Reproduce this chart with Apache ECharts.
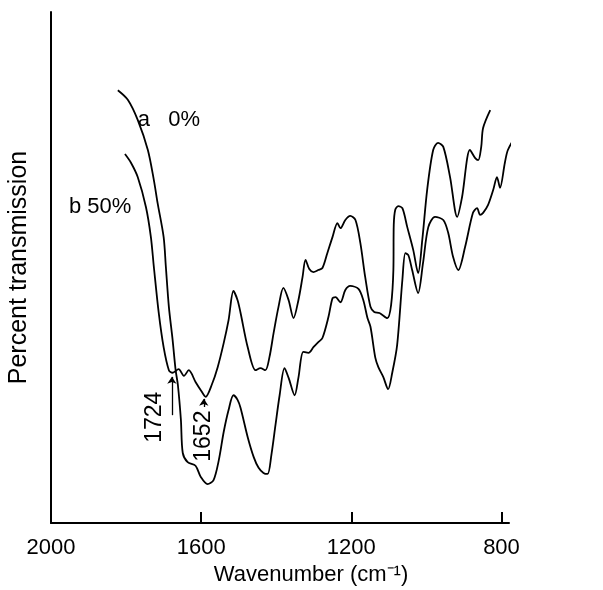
<!DOCTYPE html>
<html>
<head>
<meta charset="utf-8">
<script src="https://cdn.jsdelivr.net/npm/echarts@6/dist/echarts.min.js"></script>
<style>
html, body { margin: 0; padding: 0; background: #fff; }
#ir { width: 603px; height: 590px; }
</style>
</head>
<body>
<div id="ir"></div>
<script>
// curve a, 0%
var wavenumberA = [1822,1795,1769,1742,1726,1716,1700,1694,1686,1676,1668,1662,1654,1649,1636,1615,1601,1583,1567,1553,
  1540,1527,1514,1503,1495,1476,1460,1447,1434,1423,1413,1402,1391,1378,1367,1351,1341,1328,1314,1301,
  1288,1277,1261,1250,1242,1229,1216,1203,1181,1168,1157,1149,1136,1128,1115,1102,1091,1078,1064,1056,
  1048,1038,1022,1009,995,977,955,942,929,915,897,876,865,857,849,836,822,812,804,791,783,759,743,724];
var transmissionA = [84.7,82.8,78.9,73.0,67.1,62.6,56.0,50.1,42.3,35.8,29.9,27.0,20.2,13.7,11.9,11.2,9.0,7.6,8.4,12.3,
  17.8,22.1,25.0,24.1,22.5,16.8,12.9,10.8,9.8,9.6,13.3,19.2,25.0,30.3,28.4,25.0,28.4,33.5,33.3,34.4,
  35.4,36.2,40.3,44.0,44.2,43.2,45.6,46.4,45.8,43.6,40.1,38.4,32.3,30.5,28.6,26.2,29.4,34.8,47.6,52.8,
  52.4,49.5,45.0,50.9,57.9,59.9,59.3,56.8,52.1,49.5,54.0,60.7,61.6,60.3,60.7,62.2,65.2,67.7,65.6,70.5,73.0,76.3,79.5,83.4];

// curve b, 50%
var wavenumberB = [1803,1787,1769,1747,1734,1726,1713,1700,1686,1676,1660,1646,1633,1615,1601,1588,1572,1556,1540,1527,
  1514,1503,1495,1476,1455,1442,1429,1418,1407,1394,1381,1367,1354,1341,1330,1322,1312,1301,1288,1277,
  1264,1250,1237,1229,1216,1203,1189,1176,1163,1149,1139,1125,1104,1094,1088,1087,1083,1075,1064,1051,
  1035,1022,1011,998,982,969,955,937,918,905,884,870,862,854,849,830];
var transmissionB = [72.2,70.5,67.7,61.8,56.0,50.1,41.1,34.4,29.9,29.4,30.1,28.8,29.9,27.6,26.0,24.7,27.0,30.5,35.2,39.7,
  45.4,43.6,41.1,34.4,29.9,30.3,29.9,32.5,37.2,42.3,46.0,43.6,40.1,43.6,48.1,51.5,49.7,49.1,49.5,49.9,
  52.8,56.0,58.7,57.7,59.3,60.1,59.3,54.8,48.1,42.3,41.3,41.1,40.1,42.7,49.5,58.3,61.3,62.0,61.6,57.9,
  53.4,48.9,55.4,65.2,73.0,74.4,73.6,67.7,59.9,63.8,73.0,71.4,71.0,73.6,77.3,80.8];

var tickValues = [1600, 1200, 800];
var labelValues = [2000, 1600, 1200, 800];

// peak marks: label, wavenumber where drawn, arrow from/to transmission
var peakLabels = ['1724', '1652'];
var peakX = [1678, 1593];
var arrowFrom = [21.1, 22.7];
var arrowTo = [28.6, 24.3];
var peakTextX = [1724, 1593];
var peakTextY = [20.7, 17.0];

function zip(xs, ys) {
  return xs.map(function (x, i) { return [x, ys[i]]; });
}

var font = 'Liberation Sans, Arial, sans-serif';
var chart = echarts.init(document.getElementById('ir'));

var option = {
  animation: false,
  backgroundColor: '#fff',
  grid: { left: 51, right: 94, top: 12, bottom: 67, containLabel: false, outerBoundsMode: 'none' },
  xAxis: {
    type: 'value',
    min: 780,
    max: 2000,
    inverse: true,
    name: 'Wavenumber (cm\u207B\u00B9)',
    nameLocation: 'middle',
    nameGap: 40,
    nameTextStyle: { fontFamily: font, fontSize: 22, color: '#000', padding: [0, 0, 0, 62] },
    axisLine: { lineStyle: { color: '#000', width: 2 } },
    axisTick: { inside: true, length: 11, customValues: tickValues, lineStyle: { color: '#000', width: 2 } },
    axisLabel: {
      customValues: labelValues, margin: 14, fontFamily: font, fontSize: 22, color: '#000',
      formatter: function (v) { return String(v); }
    },
    splitLine: { show: false }
  },
  yAxis: {
    type: 'value',
    min: 0,
    max: 100,
    name: 'Percent transmission',
    nameLocation: 'middle',
    nameGap: 19,
    nameTextStyle: { fontFamily: font, fontSize: 25, color: '#000' },
    axisLine: { show: true, lineStyle: { color: '#000', width: 2 } },
    axisTick: { show: false },
    axisLabel: { show: false },
    splitLine: { show: false }
  },
  series: [
    {
      name: 'a 0%',
      type: 'line',
      data: zip(wavenumberA, transmissionA),
      showSymbol: false,
      smooth: 0.3,
      clip: false,
      lineStyle: { color: '#000', width: 1.8 }
    },
    {
      name: 'b 50%',
      type: 'line',
      data: zip(wavenumberB, transmissionB),
      showSymbol: false,
      smooth: 0.3,
      clip: false,
      lineStyle: { color: '#000', width: 1.8 },
      markLine: {
        silent: true,
        symbol: ['none', 'arrow'],
        symbolSize: 7,
        label: { show: false },
        lineStyle: { color: '#000', width: 1.3, type: 'solid' },
        data: peakX.map(function (x, i) {
          return [{ coord: [x, arrowFrom[i]] }, { coord: [x, arrowTo[i]] }];
        })
      }
    }
  ]
};
chart.setOption(option);

var graphics = [];
var pa = chart.convertToPixel({ gridIndex: 0 }, [1769, 78.9]);
graphics.push({ type: 'text', x: pa[0], y: pa[1],
  style: { text: 'a   0%', font: '22px ' + font, fill: '#000', align: 'left', verticalAlign: 'middle' } });
var pb = chart.convertToPixel({ gridIndex: 0 }, [1952, 61.8]);
graphics.push({ type: 'text', x: pb[0], y: pb[1],
  style: { text: 'b 50%', font: '22px ' + font, fill: '#000', align: 'left', verticalAlign: 'middle' } });
peakLabels.forEach(function (t, i) {
  var p = chart.convertToPixel({ gridIndex: 0 }, [peakTextX[i], peakTextY[i]]);
  graphics.push({ type: 'text', x: p[0], y: p[1], rotation: Math.PI / 2,
    style: { text: t, font: '23px ' + font, fill: '#000', align: 'center', verticalAlign: 'middle' } });
});
chart.setOption({ graphic: graphics });
</script>
</body>
</html>
